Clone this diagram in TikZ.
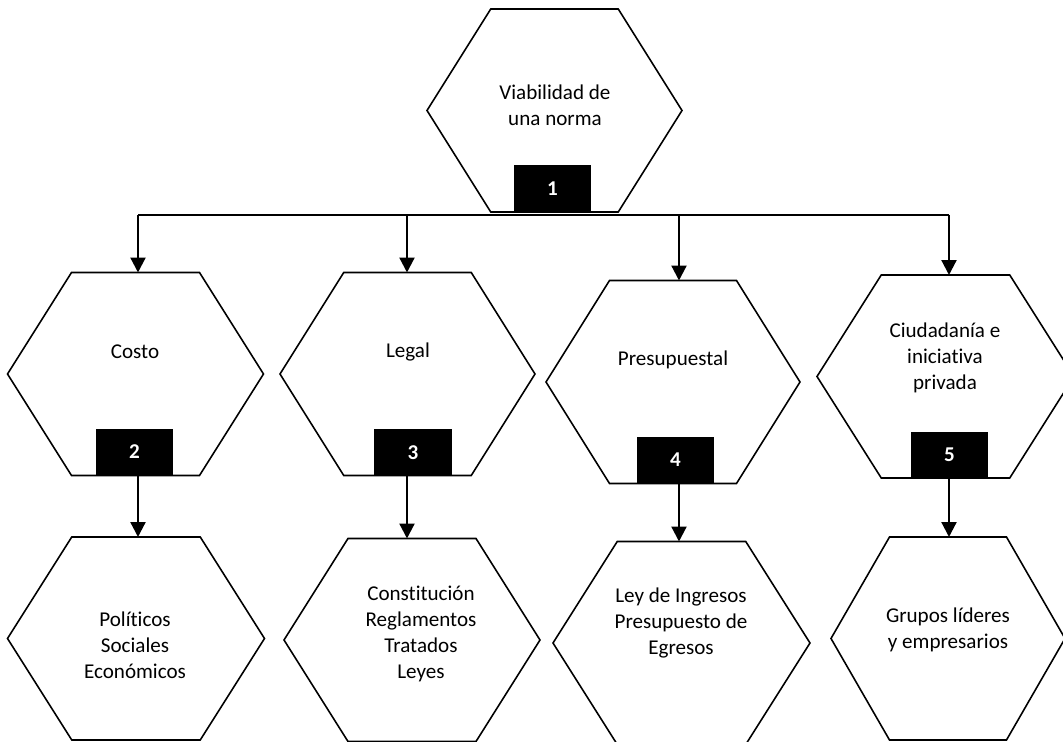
\documentclass[tikz,border=0pt]{standalone}
\usepackage{fontspec}
\setmainfont{Carlito}[Ligatures=NoCommon]
\usetikzlibrary{arrows.meta}
\tikzset{
	hexline/.style={line width=0.9pt,line join=miter},
	hextext/.style={align=center,inner sep=0pt,font=\fontsize{12}{14.8}\selectfont},
	numbox/.style={fill=black,minimum width=1.55cm,minimum height=0.93cm,inner sep=0pt,text=white,font=\bfseries\fontsize{12}{14}\selectfont},
	arr/.style={line width=1.3pt,-{Triangle[width=8.5pt,length=8.5pt]}}
}
\newcommand{\hexa}[4]{%
	\coordinate (#1) at (#2,#3);
	\draw[hexline] (#1) ++(-#4,0) -- ++(#4/2,-101.5) -- ++(#4,0) -- ++(#4/2,101.5) -- ++(-#4/2,101.5) -- ++(-#4,0) -- cycle;
	\coordinate (#1-n) at (#2,#3-101.5);
	\coordinate (#1-s) at (#2,#3+101.5);}
\begin{document}
\begin{tikzpicture}[x=0.02cm,y=-0.02cm]
	\useasboundingbox (0,0) rectangle (1063,742);
	\clip (0,0) rectangle (1063,742);
	\hexa{h1}{554.5}{110.5}{127.5}
	\hexa{h2}{135.5}{374}{128}
	\hexa{h3}{407.5}{374}{127.5}
	\hexa{h4}{673}{382}{127}
	\hexa{h5}{945.5}{376.5}{128.5}
	\hexa{h6}{136}{638.5}{128.5}
	\hexa{h7}{412}{640}{128}
	\hexa{h8}{681.5}{643}{128.5}
	\hexa{h9}{948}{638.5}{117}
	\node[hextext] (t1) at (555,105) {Viabilidad de\\una norma};
	\node[hextext] (t2) at (135,352) {Costo};
	\node[hextext] (t3) at (408,352) {Legal};
	\node[hextext] (t4) at (673,360) {Presupuestal};
	\node[hextext] (t5) at (945,358) {Ciudadanía e\\iniciativa\\privada};
	\node[hextext] (t6) at (135,645) {Políticos\\Sociales\\Económicos};
	\node[hextext] (t7) at (421,634) {Constitución\\Reglamentos\\Tratados\\Leyes};
	\node[hextext] (t8) at (681,623) {Ley de Ingresos\\Presupuesto de\\Egresos};
	\node[hextext] (t9) at (948,630) {Grupos líderes\\y empresarios};
	\node[numbox] (n1) at (552.5,188.5) {1};
	\node[numbox] (n2) at (134.5,452) {2};
	\node[numbox] (n3) at (413,452.5) {3};
	\node[numbox] (n4) at (675.5,460) {4};
	\node[numbox] (n5) at (949.5,455) {5};
	\coordinate (b2) at (138,215);
	\coordinate (b3) at (407,215);
	\coordinate (b4) at (679,215);
	\coordinate (b5) at (949,215);
	\draw[hexline] (b2) -- (b5);
	\foreach \i/\j in {2/6,3/7,4/8,5/9}{
		\draw[arr] (b\i) -- (b\i |- h\i-n);
		\draw[arr] (b\i |- n\i.south) -- (b\i |- h\j-n);
	}
\end{tikzpicture}
\end{document}
